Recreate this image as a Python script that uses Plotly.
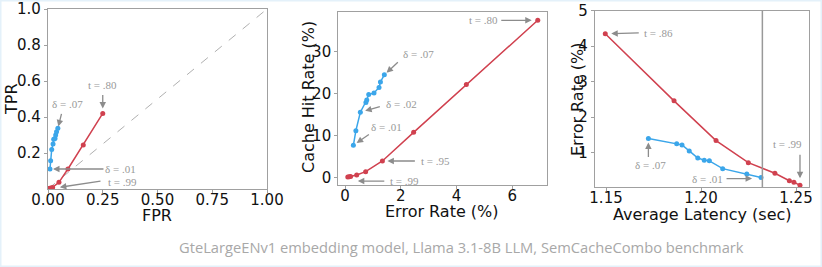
import plotly.graph_objects as go

# ---------------- data ----------------
# Panel 1: ROC
roc_red_fpr = [0.0, 0.003, 0.006, 0.012, 0.021, 0.05, 0.091, 0.161, 0.25]
roc_red_tpr = [0.0, 0.002, 0.003, 0.005, 0.009, 0.037, 0.111, 0.244, 0.42]
roc_blue_fpr = [0.009, 0.012, 0.017, 0.023, 0.026, 0.032, 0.035, 0.039, 0.045]
roc_blue_tpr = [0.111, 0.157, 0.22, 0.25, 0.276, 0.28, 0.30, 0.318, 0.337]
diag = [0, 1]

# Panel 2: cache hit rate vs error rate
red_err = [0.10, 0.15, 0.20, 0.42, 0.74, 1.34, 2.46, 4.35, 6.91]
red_hit = [0.15, 0.20, 0.30, 0.64, 1.43, 3.98, 10.8, 22.2, 37.5]
blue_err = [0.30, 0.39, 0.55, 0.75, 0.78, 0.85, 1.04, 1.22, 1.27, 1.41]
blue_hit = [7.7, 11.2, 15.6, 17.9, 18.5, 19.8, 20.2, 21.5, 22.8, 24.5]

# Panel 3: error rate vs average latency
red_lat = [1.1496, 1.1858, 1.2079, 1.2249, 1.2389, 1.2465, 1.2489, 1.2521]
red_lat_err = [4.35, 2.46, 1.34, 0.72, 0.42, 0.21, 0.17, 0.08]
blue_lat = [1.1723, 1.1872, 1.1900, 1.1938, 1.1983, 1.2017, 1.2044, 1.2114, 1.2241, 1.2316]
blue_lat_err = [1.40, 1.25, 1.22, 1.05, 0.85, 0.79, 0.77, 0.55, 0.40, 0.30]
baseline_latency = 1.2323

caption = "GteLargeENv1 embedding model, Llama 3.1-8B LLM, SemCacheCombo benchmark"

RED = "#d0414f"
BLUE = "#3ba6ea"
GRAY = "#8c8c8c"
SPINE = "#a0a0a0"
W, H = 822, 267

fig = go.Figure()


def line(x, y, color, xa, ya):
    fig.add_trace(go.Scatter(x=x, y=y, mode="lines+markers", xaxis=xa, yaxis=ya,
                             line=dict(color=color, width=1.5),
                             marker=dict(color=color, size=5),
                             showlegend=False, hoverinfo="skip"))


fig.add_trace(go.Scatter(x=diag, y=diag, mode="lines", xaxis="x", yaxis="y",
                         line=dict(color="#b0b0b0", width=1, dash="dash"),
                         showlegend=False, hoverinfo="skip"))
line(roc_red_fpr, roc_red_tpr, RED, "x", "y")
line(roc_blue_fpr, roc_blue_tpr, BLUE, "x", "y")
line(red_err, red_hit, RED, "x2", "y2")
line(blue_err, blue_hit, BLUE, "x2", "y2")
line(red_lat, red_lat_err, RED, "x3", "y3")
line(blue_lat, blue_lat_err, BLUE, "x3", "y3")


def px_dom(a, b, total):
    return [a / total, b / total]


def ydom(top, bottom):
    return [1 - bottom / H, 1 - top / H]


tickfont = dict(family="DejaVu Sans", size=15, color="#111")
common = dict(showline=True, mirror=True, linecolor=SPINE, linewidth=1.2,
              showgrid=False, zeroline=False, ticks="outside", ticklen=3,
              tickcolor=SPINE, tickfont=tickfont, fixedrange=True, automargin=False)
xcommon = dict(common, ticklabelstandoff=-6)

fig.update_layout(
    width=W, height=H, margin=dict(l=0, r=0, t=0, b=0, autoexpand=False),
    paper_bgcolor="white", plot_bgcolor="white",
    xaxis=dict(domain=px_dom(48, 267, W), range=[0, 1], anchor="y",
               tickvals=[0, 0.25, 0.5, 0.75, 1.0],
               ticktext=["0.00", "0.25", "0.50", "0.75", "1.00"], **xcommon),
    yaxis=dict(domain=ydom(9, 189), range=[0, 1], anchor="x",
               tickvals=[0.2, 0.4, 0.6, 0.8, 1.0],
               ticktext=["0.2", "0.4", "0.6", "0.8", "1.0"], **common),
    xaxis2=dict(domain=px_dom(338.3, 546.7, W), range=[-0.24, 7.23], anchor="y2",
                tickvals=[0, 2, 4, 6], **xcommon),
    yaxis2=dict(domain=ydom(12.3, 185), range=[-1.74, 39.4], anchor="x2",
                tickvals=[0, 10, 20, 30], **common),
    xaxis3=dict(domain=px_dom(595, 809.3, W), range=[1.1442, 1.257], anchor="y3",
                tickvals=[1.15, 1.20, 1.25], ticktext=["1.15", "1.20", "1.25"], **xcommon),
    yaxis3=dict(domain=ydom(10.7, 187.3), range=[0.025, 5.0], anchor="x3",
                tickvals=[1, 2, 3, 4, 5], **common),
)

# vertical reference line in panel 3
fig.add_shape(type="line", xref="x3", yref="y3 domain", x0=baseline_latency,
              x1=baseline_latency, y0=0, y1=1, line=dict(color="#999", width=1.5))

# frame border
fig.add_shape(type="rect", xref="paper", yref="paper", x0=0, x1=1, y0=0, y1=1,
              line=dict(color="#e4f1fa", width=3))

afont = dict(family="Liberation Serif", size=11, color="#999")


def note(xa, ya, x, y, text, ax, ay, standoff, tx, ty, shift=(0, 0)):
    fig.add_annotation(xref=xa, yref=ya, x=x, y=y, text="", showarrow=True,
                       ax=ax, ay=ay, standoff=standoff, arrowhead=2, arrowsize=1,
                       arrowwidth=1.3, arrowcolor=GRAY, xshift=shift[0], yshift=shift[1])
    fig.add_annotation(xref=xa, yref=ya, x=x, y=y, text=text, showarrow=False,
                       xshift=tx, yshift=ty, font=afont)


# panel 1
note("x", "y", roc_red_fpr[-1], roc_red_tpr[-1], "t = .80", 0, -20, 5, 0, 28)
note("x", "y", roc_blue_fpr[-1], roc_blue_tpr[-1], "δ = .07", 4, -16, 2, 10, 24)
note("x", "y", roc_blue_fpr[0], roc_blue_tpr[0], "δ = .01", 55, 0, 3, 71, 0)
note("x", "y", roc_red_fpr[0], roc_red_tpr[0], "t = .99", 54, -8, 12, 74, 7)
# panel 2
note("x2", "y2", red_err[-1], red_hit[-1], "t = .80", -38, 0, 6, -54, 0)
note("x2", "y2", blue_err[-1], blue_hit[-1], "δ = .07", 15, -14, 3, 34, 21)
note("x2", "y2", blue_err[2], blue_hit[2], "δ = .02", 21, -6, 5, 41, 8)
note("x2", "y2", blue_err[0], blue_hit[0], "δ = .01", 17, -12, 4, 33, 18)
note("x2", "y2", red_err[5], red_hit[5], "t = .95", 34, 0, 5, 53, 0)
note("x2", "y2", red_err[0], red_hit[0], "t = .99", 38, 0, 10, 57, -4, shift=(0, -4))
# panel 3
note("x3", "y3", red_lat[0], red_lat_err[0], "t = .86", 35, -1, 6, 53, 1)
note("x3", "y3", blue_lat[0], blue_lat_err[0], "δ = .07", 0, 20, 4, 2, -27)
note("x3", "y3", blue_lat[-1], blue_lat_err[-1], "δ = .01", -36, 0, 9, -54, -1, shift=(0, -1))
note("x3", "y3", red_lat[-1], red_lat_err[-1], "t = .99", 0, -32, 7, -12, 41)

# axis titles
tfont = dict(family="DejaVu Sans", size=16, color="#111")


def title(x, y, text, angle=0):
    fig.add_annotation(xref="paper", yref="paper", x=x / W, y=1 - y / H, text=text,
                       showarrow=False, textangle=angle, font=tfont,
                       xanchor="center", yanchor="middle")


title(157, 215, "FPR")
title(11, 99, "TPR", -90)
title(442, 211, "Error Rate (%)")
title(308, 97, "Cache Hit Rate (%)", -90)
title(702, 214, "Average Latency (sec)")
title(577, 99, "Error Rate (%)", -90)

fig.add_annotation(xref="paper", yref="paper", x=461 / W, y=1 - 247 / H, text=caption,
                   showarrow=False, font=dict(family="Open Sans", size=14.7, color="#a8a8a8"),
                   xanchor="center", yanchor="middle")

fig.write_html("out.html", config={"displayModeBar": False},
               post_script="document.body.style.margin='0';document.body.style.overflow='hidden';")
